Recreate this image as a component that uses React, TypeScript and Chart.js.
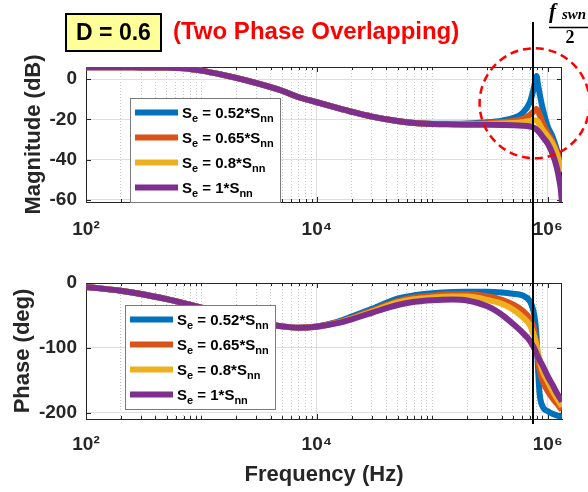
import React, { useEffect, useRef } from 'react';
import { Chart, registerables } from 'chart.js';

Chart.register(...registerables);

const FONT = '"Liberation Sans", Arial, Helvetica, sans-serif';
const SERIF = '"Liberation Serif", "DejaVu Serif", serif';
const TEXT_COLOR = '#262626';

// Frequency points (Hz)
const FREQ = [100, 200, 300, 500, 700, 1e3, 1.5e3, 2e3, 3e3, 5e3, 7e3, 1e4, 1.5e4, 2e4, 3e4, 5e4, 7e4, 1e5, 1.5e5, 2e5, 3e5, 4e5, 5e5, 6e5, 7e5, 7.5e5, 7.8e5, 8e5, 8.2e5, 8.5e5, 9e5, 1e6, 1.1e6, 1.2e6, 1.25e6, 1.3e6, 1.33e6];

// Magnitude (dB)
const MAG_052 = [5.9, 5.9, 5.8, 5.7, 5.4, 4.2, 2.2, 0.6, -2.0, -5.8, -9.0, -11.5, -14.3, -16.2, -18.6, -20.8, -21.8, -22.2, -22.2, -22.0, -21.4, -20.6, -19.4, -17.0, -11.5, -5.5, -1.0, 1.5, -2.0, -7.0, -14.0, -23.5, -28.5, -35.0, -39.0, -43.5, -46.0];
const MAG_065 = [5.9, 5.9, 5.8, 5.7, 5.4, 4.2, 2.2, 0.6, -2.0, -5.8, -9.0, -11.5, -14.3, -16.2, -18.6, -20.8, -21.8, -22.3, -22.3, -22.2, -21.9, -21.4, -20.8, -19.8, -17.8, -16.2, -15.2, -14.8, -15.5, -17.5, -21.5, -27.0, -31.0, -36.5, -40.0, -44.0, -46.0];
const MAG_080 = [5.9, 5.9, 5.8, 5.7, 5.4, 4.2, 2.2, 0.6, -2.0, -5.8, -9.0, -11.5, -14.3, -16.2, -18.6, -20.8, -21.8, -22.3, -22.4, -22.4, -22.3, -22.1, -21.8, -21.4, -20.8, -20.5, -20.4, -20.5, -21.0, -22.5, -25.0, -28.5, -32.0, -37.0, -40.5, -44.0, -46.0];
const MAG_100 = [5.9, 5.9, 5.8, 5.7, 5.4, 4.2, 2.2, 0.6, -2.0, -5.8, -9.0, -11.5, -14.3, -16.2, -18.6, -20.8, -21.8, -22.3, -22.5, -22.6, -22.7, -22.8, -22.9, -23.1, -23.5, -24.0, -24.5, -25.0, -25.6, -26.6, -28.5, -32.0, -37.0, -44.0, -49.0, -55.0, -62.0];

// Phase (deg)
const PH_052 = [-6, -12, -17, -25, -31, -38, -47, -53, -60, -67, -69, -67, -60, -52, -40, -24, -19, -16, -14, -13.5, -13.5, -14.5, -16.5, -19, -28, -42, -60, -82, -124, -170, -190, -198, -202, -204.5, -205.5, -206.5, -207];
const PH_065 = [-6, -12, -17, -25, -31, -38, -47, -53, -60, -67, -69, -67.3, -61, -54, -42.5, -28, -22.5, -19.5, -17.5, -17.5, -20.5, -26, -33, -42, -55, -67, -82, -98, -115, -134, -150, -167, -178, -186, -190, -194, -196];
const PH_080 = [-6, -12, -17, -25, -31, -38, -47, -53, -60, -67, -69, -67.6, -61.5, -55, -44, -30, -25, -22.5, -21, -21, -26, -32, -41, -52, -65, -78, -88, -96, -106, -119, -135, -152, -166, -178, -183, -188, -191];
const PH_100 = [-6, -12, -17, -25, -31, -38, -47, -53, -60, -67, -69, -67.5, -62, -56, -46, -34, -29, -26.5, -25.5, -27, -36, -49, -63, -76, -89, -98, -104, -109, -113, -119, -127, -144, -157, -170, -175, -180, -183];

const SERIES_LABELS = ['S_e = 0.52*S_nn', 'S_e = 0.65*S_nn', 'S_e = 0.8*S_nn', 'S_e = 1*S_nn'];
const SERIES_COLORS = ['#0072BD', '#D95319', '#EDB120', '#7E2F8E'];

const X_MIN = 100;
const X_MAX = 1.33e6;
const X_TICK_VALUES = [1e2, 1e4, 1e6];
const X_TICK_LABELS = ['10²', '10⁴', '10⁶'];
const MAG_TICKS = [-60, -40, -20, 0];
const MAG_RANGE = [-61, 6];
const PHASE_TICKS = [-200, -100, 0];
const PHASE_RANGE = [-210, 0];
const F_HALF = 7.45e5;
const CIRCLE_CENTER = [7.7e5, -12];

const GRID_FREQS: number[] = [];
for (let e = 2; e <= 6; e++) {
  for (let m = 1; m <= 9; m++) {
    const v = m * Math.pow(10, e);
    if (v <= X_MAX) GRID_FREQS.push(v);
  }
}

const isLabeled = (v: number) => X_TICK_VALUES.findIndex((t) => Math.abs(Math.log10(v) - Math.log10(t)) < 1e-6);

function parseRich(label: string) {
  const parts: { text: string; sub: boolean }[] = [];
  const re = /_(\w+)/g;
  let last = 0;
  let m: RegExpExecArray | null;
  while ((m = re.exec(label))) {
    if (m.index > last) parts.push({ text: label.slice(last, m.index), sub: false });
    parts.push({ text: m[1], sub: true });
    last = m.index + m[0].length;
  }
  if (last < label.length) parts.push({ text: label.slice(last), sub: false });
  return parts;
}

function drawRich(ctx: CanvasRenderingContext2D, label: string, x: number, y: number, size: number) {
  let cx = x;
  ctx.textBaseline = 'alphabetic';
  ctx.textAlign = 'left';
  for (const p of parseRich(label)) {
    const fs = p.sub ? Math.round(size * 0.75) : size;
    ctx.font = `bold ${fs}px ${FONT}`;
    ctx.fillText(p.text, cx, p.sub ? y + size * 0.32 : y);
    cx += ctx.measureText(p.text).width;
  }
}

function drawLegend(ctx: CanvasRenderingContext2D, left: number, top: number) {
  const w = 150;
  const h = 104;
  ctx.save();
  ctx.fillStyle = '#ffffff';
  ctx.fillRect(left, top, w, h);
  ctx.strokeStyle = '#7a7a7a';
  ctx.lineWidth = 1;
  ctx.strokeRect(left + 0.5, top + 0.5, w, h);
  SERIES_LABELS.forEach((lab, i) => {
    const y = top + 14.5 + 25 * i;
    ctx.strokeStyle = SERIES_COLORS[i];
    ctx.lineWidth = 6;
    ctx.lineCap = 'butt';
    ctx.beginPath();
    ctx.moveTo(left + 5, y);
    ctx.lineTo(left + 48, y);
    ctx.stroke();
    ctx.fillStyle = '#000000';
    drawRich(ctx, lab, left + 52, y + 5, 15);
  });
  ctx.restore();
}

function drawBoxAndTicks(chart: any) {
  const { ctx, chartArea: a } = chart;
  const xs = chart.scales.x;
  const ys = chart.scales.y;
  ctx.save();
  ctx.strokeStyle = TEXT_COLOR;
  ctx.lineWidth = 1;
  ctx.beginPath();
  ctx.moveTo(a.left, a.top + 0.5);
  ctx.lineTo(a.right, a.top + 0.5);
  ctx.moveTo(a.right - 0.5, a.top);
  ctx.lineTo(a.right - 0.5, a.bottom);
  for (const v of GRID_FREQS) {
    const px = Math.round(xs.getPixelForValue(v)) + 0.5;
    const len = isLabeled(v) >= 0 ? 5 : 3;
    ctx.moveTo(px, a.bottom);
    ctx.lineTo(px, a.bottom - len);
    ctx.moveTo(px, a.top);
    ctx.lineTo(px, a.top + len);
  }
  for (const t of ys.ticks) {
    const py = Math.round(ys.getPixelForValue(t.value)) + 0.5;
    ctx.moveTo(a.left, py);
    ctx.lineTo(a.left + 5, py);
    ctx.moveTo(a.right, py);
    ctx.lineTo(a.right - 5, py);
  }
  ctx.stroke();
  ctx.restore();
}

function makeDatasets(series: number[][]) {
  return series.map((vals, i) => ({
    label: SERIES_LABELS[i],
    data: FREQ.map((f, j) => ({ x: f, y: vals[j] })),
    borderColor: SERIES_COLORS[i],
    backgroundColor: SERIES_COLORS[i],
    borderWidth: 6,
    pointRadius: 0,
    cubicInterpolationMode: 'monotone' as const,
    borderJoinStyle: 'round' as const,
    fill: false,
    order: series.length - 1 - i,
  }));
}

function makeOptions(cfg: {
  padLeft: number;
  padTop: number;
  padBottom: number;
  xHeight: number;
  xPad: number;
  yTitle: string;
  yTicks: number[];
  yRange: number[];
  xTitle?: string;
  plugins: any;
}) {
  const tickFont = { family: FONT, size: 19, weight: 'bold' as const };
  const titleFont = { family: FONT, size: 22, weight: 'bold' as const };
  return {
    responsive: false,
    animation: false as const,
    events: [] as any[],
    layout: { padding: { left: cfg.padLeft, right: 26, top: cfg.padTop, bottom: cfg.padBottom } },
    plugins: { legend: { display: false }, tooltip: { enabled: false }, ...cfg.plugins },
    scales: {
      x: {
        type: 'logarithmic' as const,
        min: X_MIN,
        max: X_MAX,
        afterBuildTicks: (s: any) => {
          s.ticks = GRID_FREQS.map((v) => ({ value: v }));
        },
        afterFit: (s: any) => {
          s.height = cfg.xHeight;
        },
        ticks: {
          autoSkip: false,
          maxRotation: 0,
          padding: cfg.xPad,
          color: TEXT_COLOR,
          font: tickFont,
          callback: (v: any) => {
            const i = isLabeled(Number(v));
            return i >= 0 ? X_TICK_LABELS[i] : '';
          },
        },
        grid: {
          drawTicks: false,
          lineWidth: 1,
          color: (c: any) => (c.tick && isLabeled(c.tick.value) >= 0 ? '#dcdcdc' : 'rgba(0,0,0,0.22)'),
        },
        border: {
          display: true,
          color: TEXT_COLOR,
          width: 1,
          dash: (c: any) => (c.tick && isLabeled(c.tick.value) < 0 ? [1, 2] : []),
        },
        title: cfg.xTitle
          ? { display: true, text: cfg.xTitle, color: TEXT_COLOR, font: titleFont, padding: { top: 0, bottom: 0 } }
          : { display: false },
      },
      y: {
        type: 'linear' as const,
        min: cfg.yRange[0],
        max: cfg.yRange[1],
        afterBuildTicks: (s: any) => {
          s.ticks = cfg.yTicks.map((v) => ({ value: v }));
        },
        afterFit: (s: any) => {
          s.width = 86 - cfg.padLeft;
        },
        ticks: {
          padding: 9,
          color: TEXT_COLOR,
          font: tickFont,
          callback: (v: any) => String(v),
        },
        grid: { drawTicks: false, color: '#dedede', lineWidth: 1 },
        border: { display: true, color: TEXT_COLOR, width: 1 },
        title: { display: true, text: cfg.yTitle, color: TEXT_COLOR, font: titleFont, padding: { top: 0, bottom: 0 } },
      },
    },
  };
}

export default function App() {
  const magRef = useRef<HTMLCanvasElement | null>(null);
  const phRef = useRef<HTMLCanvasElement | null>(null);

  useEffect(() => {
    if (!magRef.current || !phRef.current) return;

    const magPlugin = {
      id: 'magDecor',
      beforeDatasetsDraw: (chart: any) => drawBoxAndTicks(chart),
      afterDraw: (chart: any) => {
        const { ctx, chartArea: a } = chart;
        drawLegend(ctx, a.left + 44, a.top + 31);
        const cx = chart.scales.x.getPixelForValue(CIRCLE_CENTER[0]);
        const cy = chart.scales.y.getPixelForValue(CIRCLE_CENTER[1]);
        ctx.save();
        ctx.strokeStyle = '#ff0000';
        ctx.lineWidth = 2.5;
        ctx.setLineDash([8, 5]);
        ctx.beginPath();
        ctx.arc(cx, cy, 55, 0, Math.PI * 2);
        ctx.stroke();
        ctx.restore();
      },
    };

    const phPlugin = {
      id: 'phDecor',
      beforeDatasetsDraw: (chart: any) => drawBoxAndTicks(chart),
      afterDraw: (chart: any) => {
        const { ctx, chartArea: a } = chart;
        drawLegend(ctx, a.left + 39, a.top + 22);
        const lx = Math.round(chart.scales.x.getPixelForValue(F_HALF));
        ctx.save();
        // vertical f_swn/2 line
        ctx.strokeStyle = '#000000';
        ctx.lineWidth = 2;
        ctx.beginPath();
        ctx.moveTo(lx, 22);
        ctx.lineTo(lx, a.bottom + 5);
        ctx.stroke();
        // f_swn / 2 label
        ctx.fillStyle = '#000000';
        ctx.textAlign = 'left';
        ctx.textBaseline = 'alphabetic';
        ctx.font = `italic bold 21px ${SERIF}`;
        ctx.fillText('f', lx + 16, 18);
        ctx.font = `italic bold 15px ${SERIF}`;
        ctx.fillText('swn', lx + 29, 19);
        ctx.lineWidth = 1.5;
        ctx.beginPath();
        ctx.moveTo(lx + 16, 27.5);
        ctx.lineTo(lx + 60, 27.5);
        ctx.stroke();
        ctx.font = `bold 18px ${SERIF}`;
        ctx.textAlign = 'center';
        ctx.textBaseline = 'middle';
        ctx.fillText('2', lx + 37, 38.5);
        // D = 0.6 box
        ctx.fillStyle = '#ffff99';
        ctx.fillRect(66, 14, 95, 37);
        ctx.strokeStyle = '#000000';
        ctx.lineWidth = 2;
        ctx.strokeRect(66, 14, 95, 37);
        ctx.fillStyle = '#000000';
        ctx.font = `bold 23px ${FONT}`;
        ctx.textAlign = 'center';
        ctx.textBaseline = 'middle';
        ctx.fillText('D = 0.6', 113.5, 33.5);
        // red subtitle
        ctx.fillStyle = '#ff0000';
        ctx.font = `bold 24px ${FONT}`;
        ctx.textAlign = 'left';
        ctx.fillText('(Two Phase Overlapping)', 173, 32.5);
        ctx.restore();
      },
    };

    const magChart = new Chart(magRef.current, {
      type: 'line',
      data: { datasets: makeDatasets([MAG_052, MAG_065, MAG_080, MAG_100]) as any },
      options: makeOptions({
        padLeft: 21,
        padTop: 67,
        padBottom: 250,
        xHeight: 40,
        xPad: 16,
        yTitle: 'Magnitude (dB)',
        yTicks: MAG_TICKS,
        yRange: MAG_RANGE,
        plugins: {},
      }) as any,
      plugins: [magPlugin],
    });

    const phChart = new Chart(phRef.current, {
      type: 'line',
      data: { datasets: makeDatasets([PH_052, PH_065, PH_080, PH_100]) as any },
      options: makeOptions({
        padLeft: 10,
        padTop: 283,
        padBottom: 4,
        xHeight: 69,
        xPad: 14,
        yTitle: 'Phase (deg)',
        yTicks: PHASE_TICKS,
        yRange: PHASE_RANGE,
        xTitle: 'Frequency (Hz)',
        plugins: {},
      }) as any,
      plugins: [phPlugin],
    });

    return () => {
      magChart.destroy();
      phChart.destroy();
    };
  }, []);

  return (
    <div style={{ position: 'fixed', left: 0, top: 0, width: 588, height: 492, background: '#ffffff' }}>
      <canvas ref={magRef} width={588} height={492} style={{ position: 'absolute', left: 0, top: 0 }} />
      <canvas ref={phRef} width={588} height={492} style={{ position: 'absolute', left: 0, top: 0 }} />
    </div>
  );
}
